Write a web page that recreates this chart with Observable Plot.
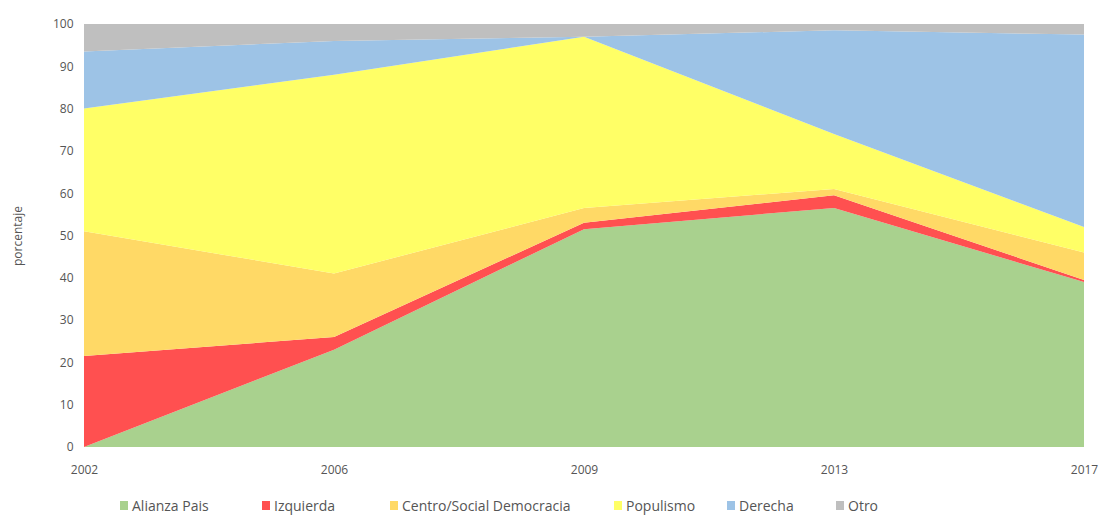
<!DOCTYPE html>
<html>
<head>
<meta charset="utf-8">
<script src="https://cdn.jsdelivr.net/npm/d3@7"></script>
<script src="https://cdn.jsdelivr.net/npm/@observablehq/plot@0.6"></script>
<style>
  body { margin: 0; background: #fff; font-family: "Open Sans", "Liberation Sans", sans-serif; }
  #wrap { position: relative; width: 1107px; height: 521px; }
  #legend { position: absolute; top: 496px; left: 0; width: 1107px; height: 20px; font-size: 14px; color: #555; }
  .item { position: absolute; top: 0; display: flex; align-items: center; }
  .sw { width: 8px; height: 9px; margin-right: 4px; display: inline-block; }
</style>
</head>
<body>
<div id="wrap">
  <div id="chart"></div>
  <div id="legend"></div>
</div>
<script>
const years = ["2002", "2006", "2009", "2013", "2017"];
const parties = ["Alianza Pais", "Izquierda", "Centro/Social Democracia", "Populismo", "Derecha", "Otro"];
const alianza   = [0,    23,  51.5, 56.5, 39];
const izquierda = [21.5, 3,   1.5,  3,    0.5];
const centro    = [29.5, 15,  3.5,  1.5,  6.5];
const populismo = [29,   47,  40.5, 13,   6];
const derecha   = [13.5, 8,   0,    24.5, 45.5];
const otro      = [6.5,  4,   3,    1.5,  2.5];
const colors = ["#a9d18e", "#ff5050", "#ffd966", "#ffff66", "#9dc3e6", "#bfbfbf"];
const yTicks = [0, 10, 20, 30, 40, 50, 60, 70, 80, 90, 100];

const series = [alianza, izquierda, centro, populismo, derecha, otro];
const data = [];
parties.forEach((p, i) => years.forEach((y, j) => data.push({year: y, party: p, value: series[i][j]})));

const chart = Plot.plot({
  width: 1107,
  height: 485,
  marginLeft: 83,
  marginRight: 22,
  marginTop: 24,
  marginBottom: 38,
  style: {fontFamily: "'Open Sans', sans-serif", fontSize: "12px", color: "#555", background: "#fff"},
  x: {type: "point", domain: years, padding: 0, label: null, tickSize: 0, tickPadding: 18},
  y: {domain: [0, 100], ticks: yTicks, label: "porcentaje", labelAnchor: "center", labelArrow: "none", labelOffset: 70, tickSize: 0, tickPadding: 10},
  color: {domain: parties, range: colors},
  marks: [
    Plot.areaY(data, {x: "year", y: "value", fill: "party", order: parties, curve: "linear"})
  ]
});
document.getElementById("chart").appendChild(chart);

const legend = document.getElementById("legend");
const lx = [120, 262, 390, 614, 727, 836];
parties.forEach((p, i) => {
  const d = document.createElement("div");
  d.className = "item";
  d.style.left = lx[i] + "px";
  d.innerHTML = `<span class="sw" style="background:${colors[i]}"></span><span>${p}</span>`;
  legend.appendChild(d);
});
</script>
</body>
</html>
